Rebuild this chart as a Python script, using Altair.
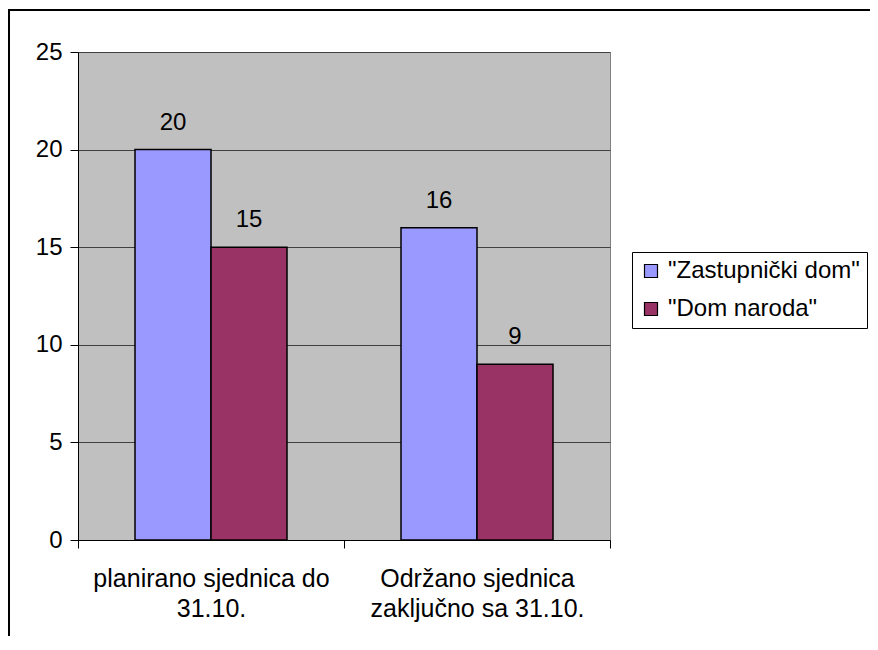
import altair as alt
import pandas as pd

categories = ["planirano sjednica do|31.10.", "Održano sjednica|zaključno sa 31.10."]
series = ['"Zastupnički dom"', '"Dom naroda"']
zastupnicki = [20, 16]
dom_naroda = [15, 9]
colors = ["#9999FF", "#993366"]
y_ticks = [0, 5, 10, 15, 20, 25]

rows = []
for i, c in enumerate(categories):
    rows.append({"cat": c, "series": series[0], "value": zastupnicki[i]})
    rows.append({"cat": c, "series": series[1], "value": dom_naroda[i]})
df = pd.DataFrame(rows)

FONT = "Liberation Sans"

x = alt.X(
    "cat:N", sort=categories,
    scale=alt.Scale(paddingInner=0, paddingOuter=0),
    axis=alt.Axis(title=None, labelAngle=0, labelExpr="split(datum.label, '|')",
                  tickBand="extent", tickSize=8, tickColor="black", domainColor="black",
                  labelFontSize=25, labelPadding=18, labelLineHeight=30, labelFont=FONT,
                  labelColor="black", grid=False, labelBaseline="top", labelLimit=0,
                  labelOverlap=False),
)
y = alt.Y(
    "value:Q", scale=alt.Scale(domain=[0, 25], nice=False),
    axis=alt.Axis(title=None, values=y_ticks, grid=True, gridColor="#404040", gridWidth=1,
                  tickSize=8, tickColor="black", domainColor="black", labelFontSize=24,
                  labelFont=FONT, labelColor="black", labelPadding=8),
)
xoff = alt.XOffset("series:N", sort=series, scale=alt.Scale(paddingOuter=0.75, paddingInner=0))

base = alt.Chart(df)

bars = base.mark_bar(stroke="black", strokeWidth=1.5).encode(
    x=x, y=y, xOffset=xoff,
    color=alt.Color("series:N", sort=series,
                    scale=alt.Scale(domain=series, range=colors),
                    legend=alt.Legend(title=None, orient="none", legendX=554, legendY=200,
                                      strokeColor="black", fillColor="white", padding=7,
                                      symbolType="square", symbolSize=169,
                                      symbolStrokeColor="black", symbolStrokeWidth=1.2,
                                      labelFontSize=24, labelFont=FONT, labelColor="black",
                                      rowPadding=14, labelOffset=5, labelLimit=0)),
)

labels = base.mark_text(baseline="alphabetic", dy=-20, fontSize=24, font=FONT, color="black").encode(
    x=x, y=y, xOffset=xoff, text="value:Q",
)

border = alt.Chart(pd.DataFrame({"a": [0]})).mark_rect(
    fillOpacity=0, stroke="black", strokeWidth=2
).encode(x=alt.value(-69), x2=alt.value(900), y=alt.value(-42), y2=alt.value(800))

chart = alt.layer(border, bars, labels).properties(
    width=532, height=488,
    autosize=alt.AutoSizeParams(type="none"),
    padding={"left": 70, "top": 44, "right": 260, "bottom": 96},
).configure(background="white", font=FONT
).configure_view(fill="#C0C0C0", stroke="#808080", strokeWidth=1)

chart.save("out.html", embed_options={"renderer": "svg", "actions": False})
